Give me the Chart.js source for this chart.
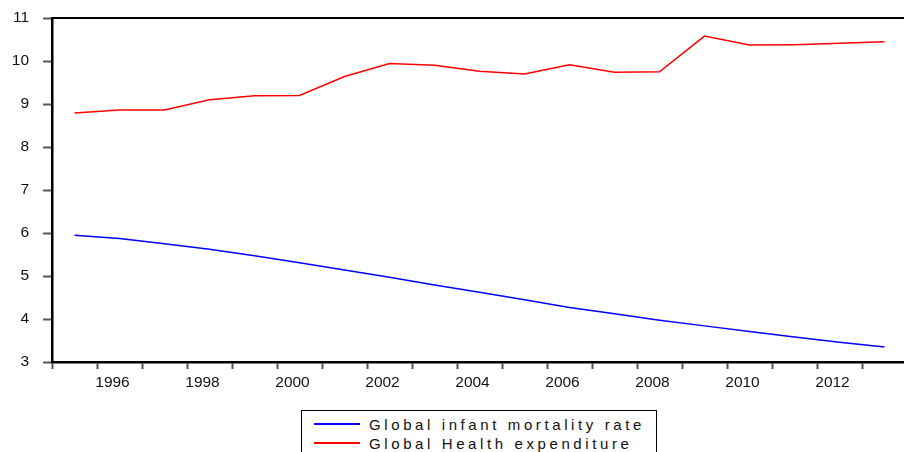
<!DOCTYPE html>
<html>
<head>
<meta charset="utf-8">
<script src="https://cdn.jsdelivr.net/npm/chart.js@4/dist/chart.umd.min.js"></script>
<style>
  html, body { margin: 0; padding: 0; background: #fff; overflow: hidden; }
  #wrap { position: relative; width: 904px; height: 452px; overflow: hidden; }
  #chart { position: absolute; left: 0; top: 0; }
  #legend {
    position: absolute; left: 301px; top: 410px; width: 354px; height: 60px;
    border: 1.5px solid #000; background: #fff;
    font-family: 'Liberation Sans', Arial, sans-serif; font-size: 15px;
    letter-spacing: 3.6px; color: #111;
  }
  .row { position: absolute; left: 12px; height: 19px; display: flex; align-items: center; white-space: nowrap; }
  .swatch { width: 46px; height: 2px; margin-right: 9px; }
</style>
</head>
<body>
<div id="wrap">
  <canvas id="chart" width="912" height="452"></canvas>
  <div id="legend"></div>
</div>
<script>
'use strict';

// ── Data ───────────────────────────────────────────────────────
const years = [1995, 1996, 1997, 1998, 1999, 2000, 2001, 2002, 2003, 2004,
               2005, 2006, 2007, 2008, 2009, 2010, 2011, 2012, 2013];

const infantMortality = [5.95, 5.87, 5.75, 5.62, 5.47, 5.31, 5.14, 4.97, 4.79, 4.62,
                         4.45, 4.27, 4.12, 3.97, 3.84, 3.71, 3.58, 3.46, 3.35];

const healthExpenditure = [8.79, 8.86, 8.86, 9.10, 9.19, 9.20, 9.64, 9.94, 9.90, 9.76,
                           9.70, 9.91, 9.74, 9.75, 10.58, 10.37, 10.38, 10.41, 10.45];

const seriesNames  = ['Global infant mortality rate', 'Global Health expenditure'];
const seriesColors = ['#0000ff', '#ff0000'];

// ── Globals ────────────────────────────────────────────────────
Chart.defaults.font.family = "'Liberation Sans', Arial, sans-serif";
Chart.defaults.font.size   = 15;
Chart.defaults.color       = '#111';
Chart.defaults.animation   = false;

const TICK_MARK = { drawOnChartArea: false, tickWidth: 2, tickColor: '#555' };
const BORDER    = { color: '#000', width: 2.5 };

// top edge of the frame
const frameTop = {
  id: 'frameTop',
  afterDraw(chart) {
    const { ctx, chartArea: a } = chart;
    ctx.save();
    ctx.strokeStyle = '#000';
    ctx.lineWidth = 2;
    ctx.beginPath();
    ctx.moveTo(a.left, a.top);
    ctx.lineTo(a.right, a.top);
    ctx.stroke();
    ctx.restore();
  },
};

function lineDataset(label, values, color) {
  return {
    label,
    data:        values,
    borderColor: color,
    borderWidth: 1.5,
    fill:        false,
    tension:     0,
    pointRadius: 0,
  };
}

new Chart(document.getElementById('chart').getContext('2d'), {
  type: 'line',
  data: {
    labels: years.map(String),
    datasets: [
      lineDataset(seriesNames[0], infantMortality,   seriesColors[0]),
      lineDataset(seriesNames[1], healthExpenditure, seriesColors[1]),
    ],
  },
  options: {
    responsive: false,
    layout: { padding: { top: 18, right: 5, left: 0, bottom: 0 } },
    plugins: { legend: { display: false }, tooltip: { enabled: false } },
    scales: {
      x: {
        type:   'category',
        offset: true,
        grid:   { ...TICK_MARK, offset: true, tickLength: 7 },
        border: BORDER,
        ticks: {
          autoSkip:    false,
          maxRotation: 0,
          labelOffset: -7,
          padding:     4,
          font:        { size: 15.5 },
          callback:    (v, i) => (years[i] % 2 === 0 ? String(years[i]) : ''),
        },
        afterFit: s => { s.height = 90; s.paddingLeft = 0; s.paddingRight = 0; },
      },
      y: {
        min: 3,
        max: 11,
        grid:   { ...TICK_MARK, tickLength: 9 },
        border: BORDER,
        ticks:  { stepSize: 1, padding: 14, font: { size: 15.5 } },
        afterFit: s => { s.width = 52; s.paddingTop = 0; s.paddingBottom = 0; },
      },
    },
  },
  plugins: [frameTop],
});

// ── Legend box ─────────────────────────────────────────────────
const legend = document.getElementById('legend');
seriesNames.forEach((name, i) => {
  const row = document.createElement('div');
  row.className = 'row';
  row.style.top = (3.5 + i * 19) + 'px';
  const sw = document.createElement('span');
  sw.className = 'swatch';
  sw.style.background = seriesColors[i];
  const tx = document.createElement('span');
  tx.textContent = name;
  row.append(sw, tx);
  legend.appendChild(row);
});
</script>
</body>
</html>
